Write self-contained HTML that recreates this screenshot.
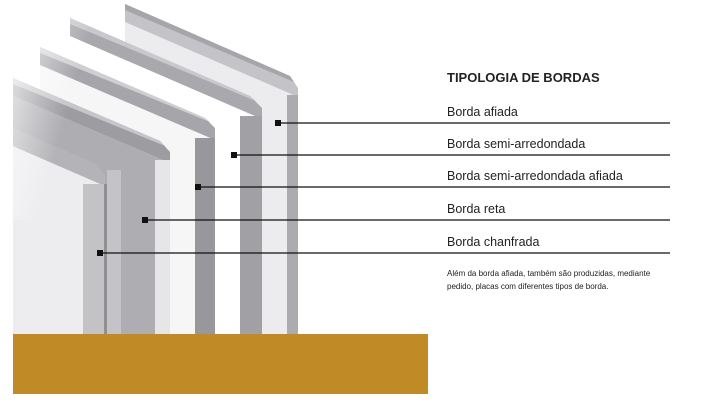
<!DOCTYPE html>
<html><head><meta charset="utf-8"><style>
body{margin:0;width:706px;height:404px;background:#fff;overflow:hidden;position:relative;font-family:"Liberation Sans",sans-serif}
.t{position:absolute;left:447px;color:#222;font-size:12.5px}
</style></head><body>
<svg width="706" height="404" style="position:absolute;left:0;top:0">
<defs>
<linearGradient id="fade" x1="0" y1="0" x2="1" y2="0.3"><stop offset="0" stop-color="#fff" stop-opacity="1"/><stop offset="0.45" stop-color="#fff" stop-opacity="0"/></linearGradient>
</defs>
<!-- board 1 -->
<polygon points="125,22 298,97 298,334 125,334" fill="#ececef"/>
<polygon points="125,4 290,76 298,88 298,97 125,22" fill="#c4c4c8"/>
<polygon points="125,4 290,76 294,82 125,10" fill="#a5a5aa"/>
<rect x="287" y="95" width="11" height="239" fill="#ababb0"/>
<!-- board 2 -->
<polygon points="70,36 262,119 262,334 70,334" fill="#ffffff"/>
<polygon points="70,18 250,96 262,108 262,119 70,36" fill="#a8a8ad"/>
<polygon points="70,18 250,96 256,101 70,24" fill="#c9c9cd"/>
<rect x="240" y="116" width="22" height="218" fill="#a0a0a5"/>
<!-- board 3 -->
<polygon points="40,65 215,140 215,334 40,334" fill="#f6f6f7"/>
<polygon points="40,47 205,118 215,128 215,140 40,65" fill="#a5a5aa"/>
<polygon points="40,47 205,118 210,122 40,53" fill="#cfcfd3"/>
<rect x="195" y="138" width="20" height="196" fill="#97979c"/>
<!-- board 4 -->
<polygon points="13,96 170,163 170,334 13,334" fill="#adadb2"/>
<polygon points="13,78 160,141 170,152 170,163 13,96" fill="#9c9ca1"/>
<polygon points="13,78 160,141 165,146 13,84" fill="#c6c6ca"/>
<rect x="155" y="160" width="15" height="174" fill="#e6e6e8"/>
<rect x="107" y="170" width="14" height="164" fill="#c4c4c8"/>
<!-- board 5 -->
<polygon points="13,146 105,186 105,334 13,334" fill="#ededf0"/>
<polygon points="13,128 96,164 105,176 105,186 13,146" fill="#b4b4b8"/>
<rect x="83" y="184" width="21" height="150" fill="#c3c3c6"/>
<rect x="104" y="184" width="3" height="150" fill="#8f8f94"/>
<rect x="0" y="0" width="200" height="220" fill="url(#fade)"/>
<rect x="0" y="0" width="13" height="404" fill="#fff"/>
<rect x="13" y="334" width="415" height="60" fill="#c08b26"/>
<g stroke="#111" stroke-width="1.2">
<line x1="278" y1="123" x2="670" y2="123"/>
<line x1="234" y1="155" x2="670" y2="155"/>
<line x1="198" y1="187" x2="670" y2="187"/>
<line x1="145" y1="220" x2="670" y2="220"/>
<line x1="100" y1="253" x2="670" y2="253"/>
</g>
<g fill="#111">
<rect x="275" y="120" width="6" height="6"/>
<rect x="231" y="152" width="6" height="6"/>
<rect x="195" y="184" width="6" height="6"/>
<rect x="142" y="217" width="6" height="6"/>
<rect x="97" y="250" width="6" height="6"/>
</g>
</svg>
<div class="t" style="top:70px;font-weight:bold;font-size:13px">TIPOLOGIA DE BORDAS</div>
<div class="t" style="top:105px">Borda afiada</div>
<div class="t" style="top:137px">Borda semi-arredondada</div>
<div class="t" style="top:169px">Borda semi-arredondada afiada</div>
<div class="t" style="top:202px">Borda reta</div>
<div class="t" style="top:235px">Borda chanfrada</div>
<div class="t" style="top:267px;font-size:8px;line-height:13px">Além da borda afiada, também são produzidas, mediante<br>pedido, placas com diferentes tipos de borda.</div>
</body></html>
